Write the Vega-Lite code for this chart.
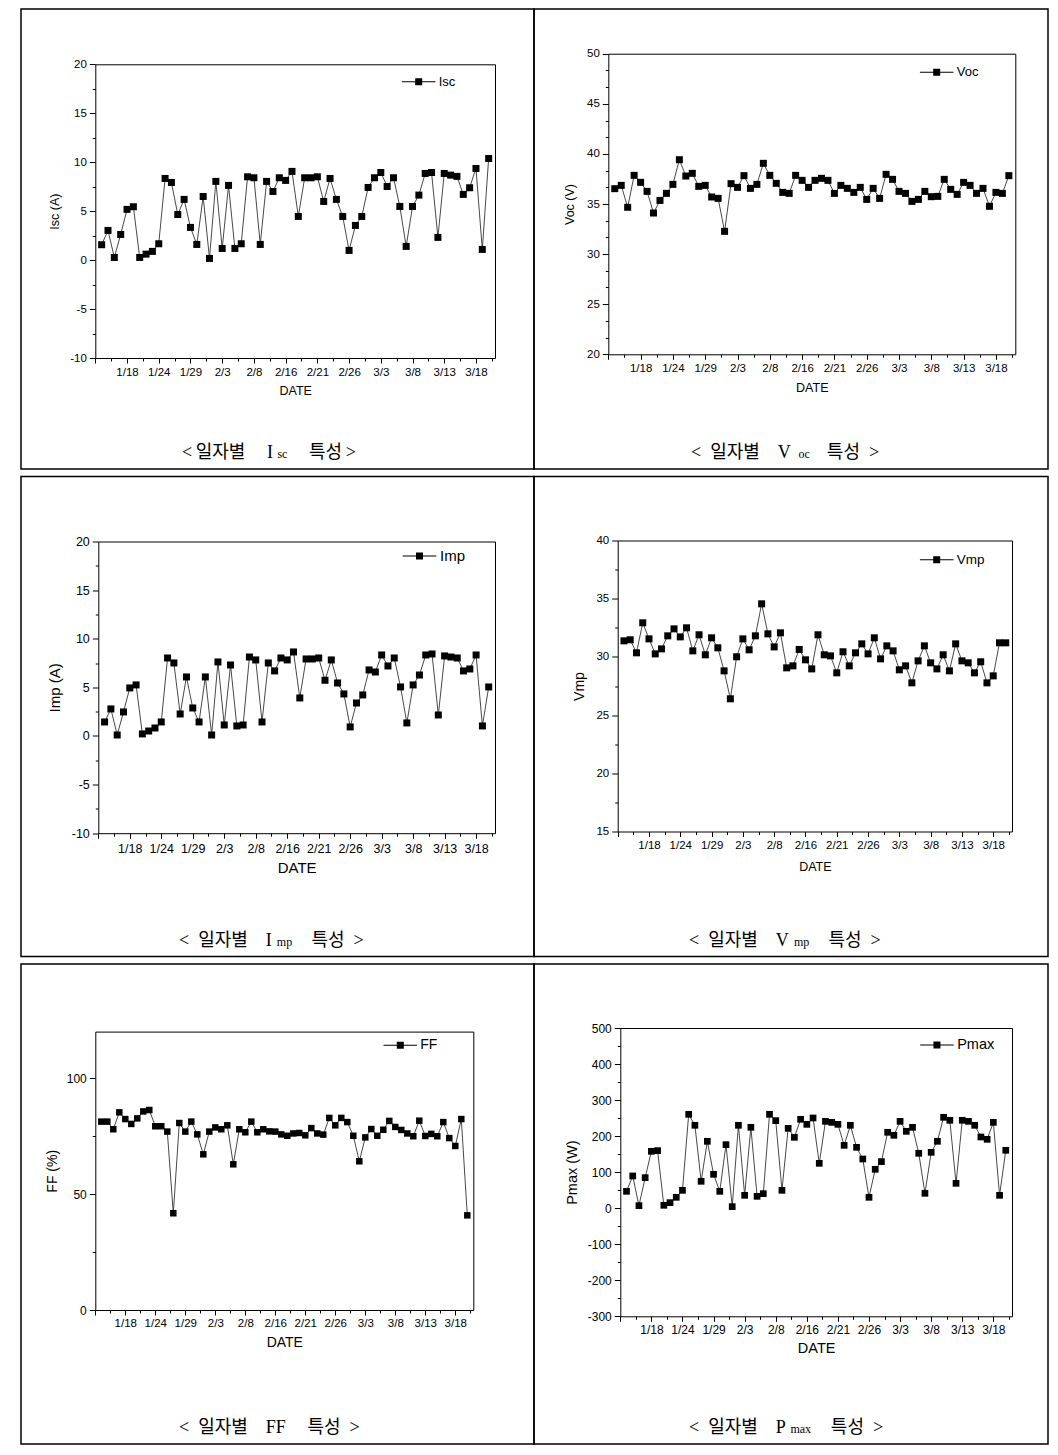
{
"$schema": "https://vega.github.io/schema/vega-lite/v6.json",
"padding": {"left": 20, "top": 8, "right": 10, "bottom": 10},
"background": "white",
"data": {"values": [
{"n":1,"Isc":1.57,"Voc":36.53,"Imp":1.44,"Vmp":31.38,"FF":81.2,"Pmax":46.8},
{"n":2,"Isc":3.03,"Voc":36.86,"Imp":2.78,"Vmp":31.47,"FF":81.2,"Pmax":89.4},
{"n":3,"Isc":0.27,"Voc":34.67,"Imp":0.1,"Vmp":30.35,"FF":77.9,"Pmax":7.0},
{"n":4,"Isc":2.62,"Voc":37.86,"Imp":2.47,"Vmp":32.93,"FF":85.2,"Pmax":84.7},
{"n":5,"Isc":5.18,"Voc":37.16,"Imp":4.94,"Vmp":31.55,"FF":82.3,"Pmax":157.8},
{"n":6,"Isc":5.45,"Voc":36.26,"Imp":5.25,"Vmp":30.26,"FF":80.2,"Pmax":159.7},
{"n":7,"Isc":0.27,"Voc":34.1,"Imp":0.21,"Vmp":30.69,"FF":82.6,"Pmax":8.0},
{"n":8,"Isc":0.61,"Voc":35.36,"Imp":0.51,"Vmp":31.81,"FF":85.6,"Pmax":15.4},
{"n":9,"Isc":0.89,"Voc":36.06,"Imp":0.82,"Vmp":32.41,"FF":86.2,"Pmax":30.2},
{"n":10,"Isc":1.67,"Voc":36.96,"Imp":1.44,"Vmp":31.72,"FF":79.2,"Pmax":49.6},
{"n":11,"Isc":8.34,"Voc":39.42,"Imp":8.02,"Vmp":32.5,"FF":79.2,"Pmax":260.5},
{"n":12,"Isc":7.93,"Voc":37.79,"Imp":7.51,"Vmp":30.52,"FF":76.9,"Pmax":230},
{"n":13,"Isc":4.66,"Voc":38.06,"Imp":2.26,"Vmp":31.9,"FF":41.7,"Pmax":74.6},
{"n":14,"Isc":6.2,"Voc":36.76,"Imp":6.07,"Vmp":30.18,"FF":80.6,"Pmax":185.6},
{"n":15,"Isc":3.34,"Voc":36.86,"Imp":2.88,"Vmp":31.64,"FF":76.9,"Pmax":94},
{"n":16,"Isc":1.6,"Voc":35.7,"Imp":1.44,"Vmp":30.78,"FF":81.2,"Pmax":46.8},
{"n":17,"Isc":6.5,"Voc":35.56,"Imp":6.07,"Vmp":28.8,"FF":75.7,"Pmax":176.3},
{"n":18,"Isc":0.17,"Voc":32.27,"Imp":0.1,"Vmp":26.4,"FF":67.1,"Pmax":4.3},
{"n":19,"Isc":8.04,"Voc":37.03,"Imp":7.61,"Vmp":30.01,"FF":76.9,"Pmax":230},
{"n":20,"Isc":1.19,"Voc":36.66,"Imp":1.13,"Vmp":31.55,"FF":78.7,"Pmax":35.7},
{"n":21,"Isc":7.63,"Voc":37.83,"Imp":7.3,"Vmp":30.61,"FF":77.9,"Pmax":224.4},
{"n":22,"Isc":1.19,"Voc":36.56,"Imp":1.03,"Vmp":31.81,"FF":79.6,"Pmax":32.9},
{"n":23,"Isc":1.67,"Voc":36.96,"Imp":1.13,"Vmp":34.56,"FF":62.8,"Pmax":40.3},
{"n":24,"Isc":8.51,"Voc":39.06,"Imp":8.12,"Vmp":31.98,"FF":77.9,"Pmax":260.5},
{"n":25,"Isc":8.41,"Voc":37.86,"Imp":7.82,"Vmp":30.86,"FF":76.6,"Pmax":242.9},
{"n":26,"Isc":1.6,"Voc":37.06,"Imp":1.44,"Vmp":32.07,"FF":81.2,"Pmax":49.6},
{"n":27,"Isc":8.04,"Voc":36.16,"Imp":7.51,"Vmp":29.06,"FF":76.6,"Pmax":221.6},
{"n":28,"Isc":7.01,"Voc":36.06,"Imp":6.69,"Vmp":29.23,"FF":77.9,"Pmax":196.7},
{"n":29,"Isc":8.41,"Voc":37.86,"Imp":8.02,"Vmp":30.64,"FF":77.0,"Pmax":246.6},
{"n":30,"Isc":8.14,"Voc":37.36,"Imp":7.82,"Vmp":29.75,"FF":76.9,"Pmax":232.7},
{"n":31,"Isc":9.06,"Voc":36.66,"Imp":8.64,"Vmp":28.97,"FF":75.7,"Pmax":250.3},
{"n":32,"Isc":4.46,"Voc":37.36,"Imp":3.91,"Vmp":31.9,"FF":75.1,"Pmax":124.5},
{"n":33,"Isc":8.41,"Voc":37.56,"Imp":7.92,"Vmp":30.18,"FF":76.1,"Pmax":241},
{"n":34,"Isc":8.41,"Voc":37.36,"Imp":7.92,"Vmp":30.09,"FF":76.3,"Pmax":238.2},
{"n":35,"Isc":8.51,"Voc":36.06,"Imp":8.02,"Vmp":28.63,"FF":75.3,"Pmax":232.7},
{"n":36,"Isc":5.99,"Voc":36.86,"Imp":5.73,"Vmp":30.44,"FF":78.4,"Pmax":174.4},
{"n":37,"Isc":8.34,"Voc":36.56,"Imp":7.82,"Vmp":29.23,"FF":76.1,"Pmax":230},
{"n":38,"Isc":6.2,"Voc":36.16,"Imp":5.45,"Vmp":30.35,"FF":75.6,"Pmax":168.9},
{"n":39,"Isc":4.46,"Voc":36.66,"Imp":4.32,"Vmp":31.12,"FF":82.8,"Pmax":136.5},
{"n":40,"Isc":0.99,"Voc":35.46,"Imp":0.93,"Vmp":30.26,"FF":79.6,"Pmax":30.2},
{"n":41,"Isc":3.54,"Voc":36.56,"Imp":3.39,"Vmp":31.64,"FF":82.8,"Pmax":107.9},
{"n":42,"Isc":4.46,"Voc":35.56,"Imp":4.22,"Vmp":29.83,"FF":81.0,"Pmax":129.2},
{"n":43,"Isc":7.42,"Voc":37.96,"Imp":6.79,"Vmp":30.95,"FF":75.1,"Pmax":210.6},
{"n":44,"Isc":8.41,"Voc":37.46,"Imp":6.58,"Vmp":30.52,"FF":64.1,"Pmax":202.3},
{"n":45,"Isc":8.95,"Voc":36.26,"Imp":8.33,"Vmp":28.89,"FF":74.4,"Pmax":241},
{"n":46,"Isc":7.52,"Voc":36.06,"Imp":7.2,"Vmp":29.23,"FF":78.0,"Pmax":213.3},
{"n":47,"Isc":8.41,"Voc":35.26,"Imp":8.02,"Vmp":27.77,"FF":75.1,"Pmax":224.4},
{"n":48,"Isc":5.48,"Voc":35.46,"Imp":5.04,"Vmp":29.66,"FF":77.7,"Pmax":152.3},
{"n":49,"Isc":1.4,"Voc":36.26,"Imp":1.34,"Vmp":30.95,"FF":81.5,"Pmax":41.3},
{"n":50,"Isc":5.48,"Voc":35.73,"Imp":5.25,"Vmp":29.49,"FF":78.9,"Pmax":155},
{"n":51,"Isc":6.64,"Voc":35.76,"Imp":6.27,"Vmp":28.97,"FF":77.6,"Pmax":185.6},
{"n":52,"Isc":8.85,"Voc":37.46,"Imp":8.33,"Vmp":30.18,"FF":76.1,"Pmax":252.2},
{"n":53,"Isc":8.95,"Voc":36.46,"Imp":8.43,"Vmp":28.8,"FF":74.9,"Pmax":243.9},
{"n":54,"Isc":2.32,"Voc":35.96,"Imp":2.16,"Vmp":31.12,"FF":81.6,"Pmax":69},
{"n":55,"Isc":8.85,"Voc":37.16,"Imp":8.23,"Vmp":29.66,"FF":75.0,"Pmax":243.9},
{"n":56,"Isc":8.68,"Voc":36.86,"Imp":8.12,"Vmp":29.49,"FF":75.9,"Pmax":241},
{"n":57,"Isc":8.55,"Voc":36.06,"Imp":8.02,"Vmp":28.63,"FF":74.9,"Pmax":230},
{"n":58,"Isc":6.71,"Voc":36.56,"Imp":6.69,"Vmp":29.58,"FF":81.0,"Pmax":197.6},
{"n":59,"Isc":7.39,"Voc":34.77,"Imp":6.89,"Vmp":27.77,"FF":74.1,"Pmax":191.1},
{"n":60,"Isc":9.36,"Voc":36.16,"Imp":8.33,"Vmp":28.37,"FF":70.7,"Pmax":238.2},
{"n":61,"Isc":1.09,"Voc":36.06,"Imp":1.03,"Vmp":31.21,"FF":82.3,"Pmax":35.7},
{"n":62,"Isc":10.38,"Voc":37.83,"Imp":5.04,"Vmp":31.21,"FF":40.8,"Pmax":160.6}
]},
"spacing": 5.5,
"resolve": {"scale": {"color": "independent"}, "legend": {"color": "independent"}},
"vconcat": [
{"hconcat": [
{"width": 513, "height": 460,
 "title": {"text": "<\u2009일자별\u2003\u2009I\u2003\u2003특성\u2009>", "subtitle": "\u200b\u00a0\u2003\u2003\u2003\u2003\u2003\u2003\u2003\u2002\u2009sc", "dx": 161, "offset": -25},
 "layer": [
  {"mark": {"type": "line", "color": "#333333", "strokeWidth": 0.9},
   "encoding": {
    "x": {"field": "n", "type": "quantitative", "scale": {"domain": [0, 63], "range": [74.3, 474], "nice": false, "zero": false},
      "axis": {"orient": "bottom", "offset": -111, "values": [0,2.5,5,7.5,10,12.5,15,17.5,20,22.5,25,27.5,30,32.5,35,37.5,40,42.5,45,47.5,50,52.5,55,57.5,60,62.5],
        "labelExpr": "datum.value % 5 == 0 && datum.value > 0 ? ['','1/18','1/24','1/29','2/3','2/8','2/16','2/21','2/26','3/3','3/8','3/13','3/18'][datum.value / 5] : ''",
        "tickSize": {"condition": {"test": "datum.value % 5 == 0", "value": 5}, "value": 3},
        "title": "DATE", "titlePadding": 7, "labelPadding": 3, "labelFontSize": 11.5, "titleFontSize": 12.5}},
    "y": {"field": "Isc", "type": "quantitative", "scale": {"domain": [-10, 20], "range": [349, 55.3], "nice": false, "zero": false},
      "axis": {"orient": "left", "offset": -74.3, "values": [-10,-7.5,-5,-2.5,0,2.5,5,7.5,10,12.5,15,17.5,20],
        "labelExpr": "datum.value % 5 == 0 ? '' + datum.value : ''",
        "tickSize": {"condition": {"test": "datum.value % 5 == 0", "value": 6}, "value": 3},
        "title": "Isc (A)", "titlePadding": 8, "labelPadding": 3, "labelFontSize": 11.5, "titleFontSize": 12.5}}
   }},
  {"mark": {"type": "point", "shape": "square", "filled": true, "size": 49, "opacity": 1},
   "encoding": {
    "x": {"field": "n", "type": "quantitative", "axis": {"orient": "top", "offset": -55.3, "ticks": false, "labels": false, "title": null}},
    "y": {"field": "Isc", "type": "quantitative", "axis": {"orient": "right", "offset": -39, "ticks": false, "labels": false, "title": null}},
    "color": {"datum": "Isc", "scale": {"range": ["black"]}, "legend": {"title": null, "orient": "none", "legendX": 390.7, "legendY": 65.7, "labelFontSize": 13}}
   }}
 ],
 "resolve": {"axis": {"x": "independent", "y": "independent"}}
},
{"width": 514, "height": 460,
 "title": {"text": "<\u2002일자별\u2003V\u2003\u2003특성\u2002>", "subtitle": "\u200b\u00a0\u2003\u2003\u2003\u2003\u2003\u2003\u2003\u2003\u2002\u2009oc", "dx": 157, "offset": -25},
 "layer": [
  {"mark": {"type": "line", "color": "#333333", "strokeWidth": 0.9},
   "encoding": {
    "x": {"field": "n", "type": "quantitative", "scale": {"domain": [0, 63], "range": [74.3, 481.3], "nice": false, "zero": false},
      "axis": {"orient": "bottom", "offset": -114.7, "values": [0,2.5,5,7.5,10,12.5,15,17.5,20,22.5,25,27.5,30,32.5,35,37.5,40,42.5,45,47.5,50,52.5,55,57.5,60,62.5],
        "labelExpr": "datum.value % 5 == 0 && datum.value > 0 ? ['','1/18','1/24','1/29','2/3','2/8','2/16','2/21','2/26','3/3','3/8','3/13','3/18'][datum.value / 5] : ''",
        "tickSize": {"condition": {"test": "datum.value % 5 == 0", "value": 5}, "value": 3},
        "title": "DATE", "titlePadding": 8, "labelPadding": 3, "labelFontSize": 11.5, "titleFontSize": 12.5}},
    "y": {"field": "Voc", "type": "quantitative", "scale": {"domain": [20, 50], "range": [345.3, 44.7], "nice": false, "zero": false},
      "axis": {"orient": "left", "offset": -74.3, "values": [20,21.667,23.333,25,26.667,28.333,30,31.667,33.333,35,36.667,38.333,40,41.667,43.333,45,46.667,48.333,50],
        "labelExpr": "abs(datum.value % 5) < 0.01 ? '' + datum.value : ''",
        "tickSize": {"condition": {"test": "abs(datum.value % 5) < 0.01", "value": 6}, "value": 3},
        "title": "Voc (V)", "titlePadding": 10, "labelPadding": 3, "labelFontSize": 11.5, "titleFontSize": 12.5}}
   }},
  {"mark": {"type": "point", "shape": "square", "filled": true, "size": 49, "opacity": 1},
   "encoding": {
    "x": {"field": "n", "type": "quantitative", "axis": {"orient": "top", "offset": -44.7, "ticks": false, "labels": false, "title": null}},
    "y": {"field": "Voc", "type": "quantitative", "axis": {"orient": "right", "offset": -32.7, "ticks": false, "labels": false, "title": null}},
    "color": {"datum": "Voc", "scale": {"range": ["black"]}, "legend": {"title": null, "orient": "none", "legendX": 395.7, "legendY": 56.3, "labelFontSize": 13}}
   }}
 ],
 "resolve": {"axis": {"x": "independent", "y": "independent"}}
}
], "spacing": 0, "bounds": "flush", "resolve": {"scale": {"color": "independent"}, "legend": {"color": "independent"}}},
{"hconcat": [
{"width": 513, "height": 480,
 "title": {"text": "<\u2002일자별\u2003I\u2003\u2003\u2009특성\u2002>", "subtitle": "\u200b\u00a0\u2003\u2003\u2003\u2003\u2003\u2003\u2003\u2002\u2009\u2009mp", "dx": 158, "offset": -25},
 "layer": [
  {"mark": {"type": "line", "color": "#333333", "strokeWidth": 0.9},
   "encoding": {
    "x": {"field": "n", "type": "quantitative", "scale": {"domain": [0, 63], "range": [77.3, 474], "nice": false, "zero": false},
      "axis": {"orient": "bottom", "offset": -123.3, "values": [0,2.5,5,7.5,10,12.5,15,17.5,20,22.5,25,27.5,30,32.5,35,37.5,40,42.5,45,47.5,50,52.5,55,57.5,60,62.5],
        "labelExpr": "datum.value % 5 == 0 && datum.value > 0 ? ['','1/18','1/24','1/29','2/3','2/8','2/16','2/21','2/26','3/3','3/8','3/13','3/18'][datum.value / 5] : ''",
        "tickSize": {"condition": {"test": "datum.value % 5 == 0", "value": 5}, "value": 3},
        "title": "DATE", "titlePadding": 6, "labelPadding": 4, "labelFontSize": 12.5, "titleFontSize": 15}},
    "y": {"field": "Imp", "type": "quantitative", "scale": {"domain": [-10, 20], "range": [356.7, 65], "nice": false, "zero": false},
      "axis": {"orient": "left", "offset": -77.3, "values": [-10,-7.5,-5,-2.5,0,2.5,5,7.5,10,12.5,15,17.5,20],
        "labelExpr": "datum.value % 5 == 0 ? '' + datum.value : ''",
        "tickSize": {"condition": {"test": "datum.value % 5 == 0", "value": 6}, "value": 3},
        "title": "Imp (A)", "titlePadding": 9, "labelPadding": 3, "labelFontSize": 12.5, "titleFontSize": 15}}
   }},
  {"mark": {"type": "point", "shape": "square", "filled": true, "size": 49, "opacity": 1},
   "encoding": {
    "x": {"field": "n", "type": "quantitative", "axis": {"orient": "top", "offset": -65, "ticks": false, "labels": false, "title": null}},
    "y": {"field": "Imp", "type": "quantitative", "axis": {"orient": "right", "offset": -39, "ticks": false, "labels": false, "title": null}},
    "color": {"datum": "Imp", "scale": {"range": ["black"]}, "legend": {"title": null, "orient": "none", "legendX": 391, "legendY": 72, "labelFontSize": 15}}
   }}
 ],
 "resolve": {"axis": {"x": "independent", "y": "independent"}}
},
{"width": 514, "height": 480,
 "title": {"text": "<\u2002일자별\u2003V\u2003\u2003\u2009특성\u2002>", "subtitle": "\u200b\u00a0\u2003\u2003\u2003\u2003\u2003\u2003\u2003\u2003\u2002mp", "dx": 155, "offset": -25},
 "layer": [
  {"mark": {"type": "line", "color": "#333333", "strokeWidth": 0.9},
   "encoding": {
    "x": {"field": "n", "type": "quantitative", "scale": {"domain": [0, 63], "range": [83.7, 478], "nice": false, "zero": false},
      "axis": {"orient": "bottom", "offset": -125, "values": [0,2.5,5,7.5,10,12.5,15,17.5,20,22.5,25,27.5,30,32.5,35,37.5,40,42.5,45,47.5,50,52.5,55,57.5,60,62.5],
        "labelExpr": "datum.value % 5 == 0 && datum.value > 0 ? ['','1/18','1/24','1/29','2/3','2/8','2/16','2/21','2/26','3/3','3/8','3/13','3/18'][datum.value / 5] : ''",
        "tickSize": {"condition": {"test": "datum.value % 5 == 0", "value": 5}, "value": 3},
        "title": "DATE", "titlePadding": 9, "labelPadding": 3, "labelFontSize": 11.5, "titleFontSize": 12.5}},
    "y": {"field": "Vmp", "type": "quantitative", "scale": {"domain": [15, 40], "range": [355, 64], "nice": false, "zero": false},
      "axis": {"orient": "left", "offset": -83.7, "values": [15,17.5,20,22.5,25,27.5,30,32.5,35,37.5,40],
        "labelExpr": "datum.value % 5 == 0 ? '' + datum.value : ''",
        "tickSize": {"condition": {"test": "datum.value % 5 == 0", "value": 6}, "value": 3},
        "title": "Vmp", "titlePadding": 9, "labelPadding": 3, "labelFontSize": 11.5, "titleFontSize": 14}}
   }},
  {"mark": {"type": "point", "shape": "square", "filled": true, "size": 49, "opacity": 1},
   "encoding": {
    "x": {"field": "n", "type": "quantitative", "axis": {"orient": "top", "offset": -64, "ticks": false, "labels": false, "title": null}},
    "y": {"field": "Vmp", "type": "quantitative", "axis": {"orient": "right", "offset": -36, "ticks": false, "labels": false, "title": null}},
    "color": {"datum": "Vmp", "scale": {"range": ["black"]}, "legend": {"title": null, "orient": "none", "legendX": 395.7, "legendY": 76.3, "labelFontSize": 13.5}}
   }}
 ],
 "resolve": {"axis": {"x": "independent", "y": "independent"}}
}
], "spacing": 0, "bounds": "flush", "resolve": {"scale": {"color": "independent"}, "legend": {"color": "independent"}}},
{"hconcat": [
{"width": 513, "height": 480,
 "title": {"text": "<\u2002일자별\u2003FF\u2003\u2009특성\u2002>", "dx": 158, "offset": -25},
 "layer": [
  {"mark": {"type": "line", "color": "#333333", "strokeWidth": 0.9},
   "encoding": {
    "x": {"field": "n", "type": "quantitative", "scale": {"domain": [0, 63], "range": [74.3, 452.3], "nice": false, "zero": false},
      "axis": {"orient": "bottom", "offset": -134, "values": [0,2.5,5,7.5,10,12.5,15,17.5,20,22.5,25,27.5,30,32.5,35,37.5,40,42.5,45,47.5,50,52.5,55,57.5,60,62.5],
        "labelExpr": "datum.value % 5 == 0 && datum.value > 0 ? ['','1/18','1/24','1/29','2/3','2/8','2/16','2/21','2/26','3/3','3/8','3/13','3/18'][datum.value / 5] : ''",
        "tickSize": {"condition": {"test": "datum.value % 5 == 0", "value": 5}, "value": 3},
        "title": "DATE", "titlePadding": 7, "labelPadding": 2, "labelFontSize": 11.5, "titleFontSize": 14}},
    "y": {"field": "FF", "type": "quantitative", "scale": {"domain": [0, 120], "range": [346, 67.6], "nice": false, "zero": false},
      "axis": {"orient": "left", "offset": -74.3, "values": [0,25,50,75,100],
        "labelExpr": "datum.value % 50 == 0 ? '' + datum.value : ''",
        "tickSize": {"condition": {"test": "datum.value % 50 == 0", "value": 6}, "value": 3},
        "title": "FF (%)", "titlePadding": 7, "labelPadding": 3, "labelFontSize": 12, "titleFontSize": 14}}
   }},
  {"mark": {"type": "point", "shape": "square", "filled": true, "size": 42, "opacity": 1},
   "encoding": {
    "x": {"field": "n", "type": "quantitative", "axis": {"orient": "top", "offset": -67.6, "ticks": false, "labels": false, "title": null}},
    "y": {"field": "FF", "type": "quantitative", "axis": {"orient": "right", "offset": -60.7, "ticks": false, "labels": false, "title": null}},
    "color": {"datum": "FF", "scale": {"range": ["black"]}, "legend": {"title": null, "orient": "none", "legendX": 372.3, "legendY": 74.3, "labelFontSize": 14}}
   }}
 ],
 "resolve": {"axis": {"x": "independent", "y": "independent"}}
},
{"width": 514, "height": 480,
 "title": {"text": "<\u2002일자별\u2003P\u2003\u2003\u2002특성\u2002>", "subtitle": "\u200b\u00a0\u2003\u2003\u2003\u2003\u2003\u2003\u2003\u2003\u2009max", "dx": 155, "offset": -25},
 "layer": [
  {"mark": {"type": "line", "color": "#333333", "strokeWidth": 0.9},
   "encoding": {
    "x": {"field": "n", "type": "quantitative", "scale": {"domain": [0, 63], "range": [86.3, 478], "nice": false, "zero": false},
      "axis": {"orient": "bottom", "offset": -127.7, "values": [0,2.5,5,7.5,10,12.5,15,17.5,20,22.5,25,27.5,30,32.5,35,37.5,40,42.5,45,47.5,50,52.5,55,57.5,60,62.5],
        "labelExpr": "datum.value % 5 == 0 && datum.value > 0 ? ['','1/18','1/24','1/29','2/3','2/8','2/16','2/21','2/26','3/3','3/8','3/13','3/18'][datum.value / 5] : ''",
        "tickSize": {"condition": {"test": "datum.value % 5 == 0", "value": 5}, "value": 3},
        "title": "DATE", "titlePadding": 6, "labelPadding": 3, "labelFontSize": 12, "titleFontSize": 14.5}},
    "y": {"field": "Pmax", "type": "quantitative", "scale": {"domain": [-300, 500], "range": [352.3, 64], "nice": false, "zero": false},
      "axis": {"orient": "left", "offset": -86.3, "values": [-300,-250,-200,-150,-100,-50,0,50,100,150,200,250,300,350,400,450,500],
        "labelExpr": "datum.value % 100 == 0 ? '' + datum.value : ''",
        "tickSize": {"condition": {"test": "datum.value % 100 == 0", "value": 6}, "value": 3},
        "title": "Pmax (W)", "titlePadding": 8, "labelPadding": 3, "labelFontSize": 12, "titleFontSize": 14.5}}
   }},
  {"mark": {"type": "point", "shape": "square", "filled": true, "size": 45, "opacity": 1},
   "encoding": {
    "x": {"field": "n", "type": "quantitative", "axis": {"orient": "top", "offset": -64, "ticks": false, "labels": false, "title": null}},
    "y": {"field": "Pmax", "type": "quantitative", "axis": {"orient": "right", "offset": -36, "ticks": false, "labels": false, "title": null}},
    "color": {"datum": "Pmax", "scale": {"range": ["black"]}, "legend": {"title": null, "orient": "none", "legendX": 395.7, "legendY": 73.7, "labelFontSize": 14.5}}
   }}
 ],
 "resolve": {"axis": {"x": "independent", "y": "independent"}}
}
], "spacing": 0, "bounds": "flush", "resolve": {"scale": {"color": "independent"}, "legend": {"color": "independent"}}}
],
"config": {
 "view": {"stroke": "black", "strokeWidth": 1.5},
 "axis": {"grid": false, "domainColor": "black", "domainWidth": 1, "tickColor": "black", "tickWidth": 1, "labelColor": "black", "titleColor": "black", "labelFont": "Liberation Sans", "titleFont": "Liberation Sans", "titleFontWeight": "normal", "labelOverlap": false, "labelFlush": false},
 "legend": {"symbolType": "M-2.4,-0.07H2.4V0.07H-2.4Z M-0.5,-0.5H0.5V0.5H-0.5Z", "symbolSize": 196, "symbolFillColor": "black", "symbolStrokeColor": "black", "symbolStrokeWidth": 0, "symbolOpacity": 1, "labelFont": "Liberation Sans", "labelColor": "black", "labelOffset": 13, "padding": 0},
 "title": {"orient": "bottom", "frame": "group", "anchor": "start", "align": "left", "baseline": "top", "font": "Liberation Serif, Noto Sans CJK KR", "fontSize": 18, "fontWeight": "normal", "color": "black", "subtitleFont": "Liberation Serif, Noto Sans CJK KR", "subtitleFontSize": 12, "subtitleColor": "black", "subtitlePadding": -13}
}
}
